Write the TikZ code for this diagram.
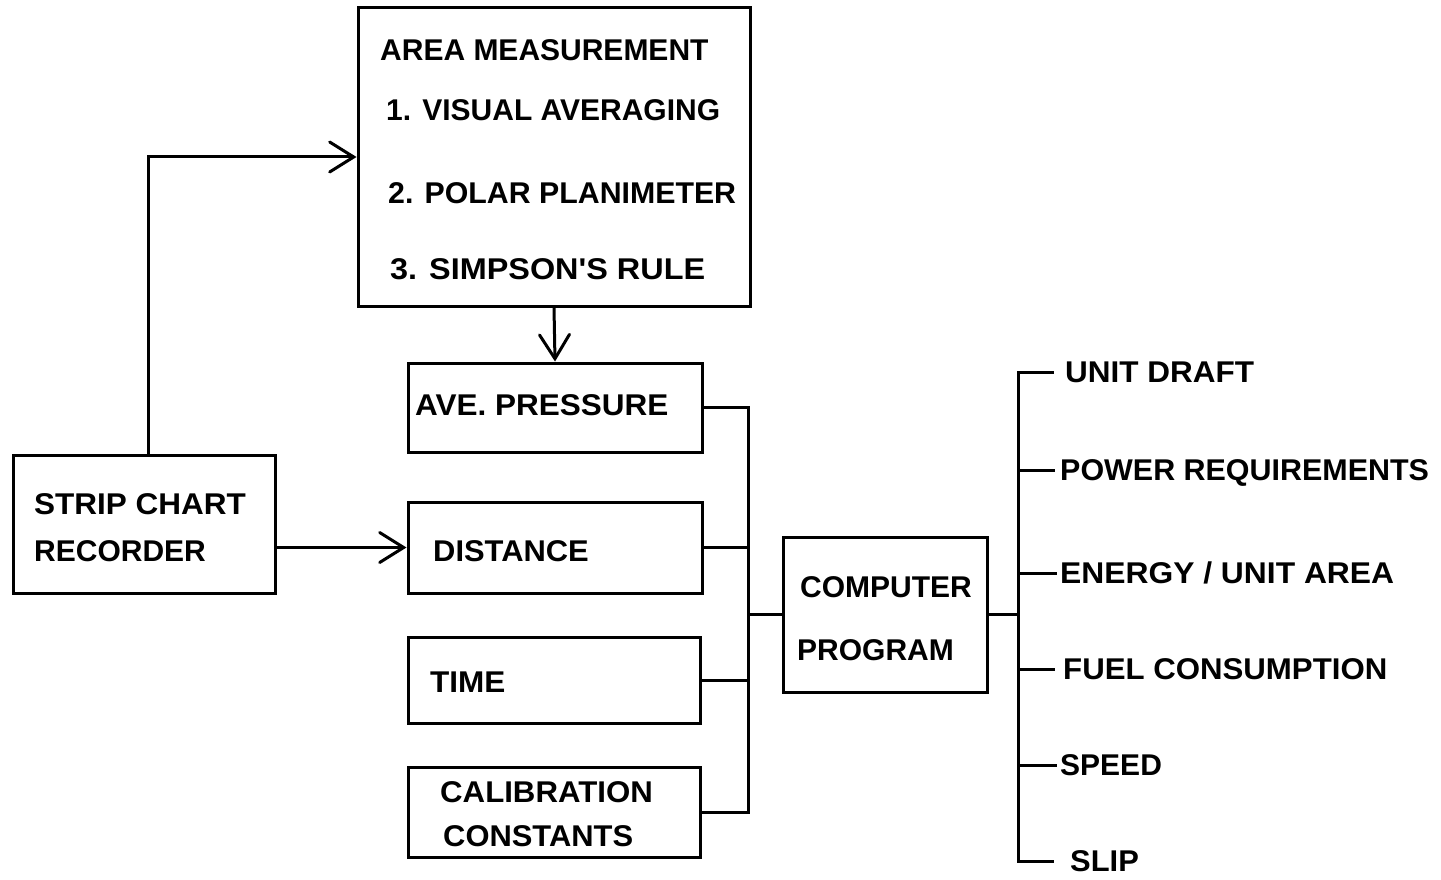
\documentclass[tikz,border=0pt]{standalone}
\usepackage{fontspec}
\setmainfont{Liberation Sans}
\newfontfamily\aposfont{Liberation Sans}
\usetikzlibrary{arrows.meta,calc}
\newcommand\sxw[2]{\scalebox{#1}[1]{#2}}
\begin{document}
\begin{tikzpicture}[x=1pt,y=-1pt,
  ln/.style={line width=3pt,line cap=rect},
  arr/.style={ln,-{Straight Barb[length=24pt,width=30pt,line cap=round]}},
  box/.style={draw,line width=3pt,rectangle,inner sep=0pt},
  txt/.style={font=\fontsize{30}{30}\selectfont\bfseries,anchor=west,inner sep=0pt,text height=21.5pt,text depth=0pt}]
\useasboundingbox[fill=white] (0,0) rectangle (1441,880);
% boxes
\node[box,minimum width=392pt,minimum height=298pt] (area) at (554,157) {};
\node[box,minimum width=262pt,minimum height=138pt] (strip) at (144,524) {};
\node[box,minimum width=294pt,minimum height=89pt] (ave) at (555,407.5) {};
\node[box,minimum width=294pt,minimum height=91pt] (dist) at (555,547.5) {};
\node[box,minimum width=292pt,minimum height=86pt] (time) at (554,680) {};
\node[box,minimum width=292pt,minimum height=90pt] (calib) at (554,812) {};
\node[box,minimum width=204pt,minimum height=155pt] (comp) at (885,614.5) {};
% texts in boxes
\node[txt] (a1) at (380,50) {AREA MEASUREMENT};
\node[txt] (a2) at (386,110) {1. VISUAL AVERAGING};
\node[txt] (a3) at (388,193) {\sxw{1.01}{2. POLAR PLANIMETER}};
\node[txt] (a4) at (390,269) {\sxw{1.08}{3. SIMPSON{\aposfont\bfseries '}S RULE}};
\node[txt] (s1) at (34,504) {\sxw{1.05}{STRIP CHART}};
\node[txt] (s2) at (34,551) {RECORDER};
\node[txt] (t1) at (415,405) {\sxw{1.05}{AVE. PRESSURE}};
\node[txt] (t2) at (433,551) {\sxw{1.03}{DISTANCE}};
\node[txt] (t3) at (430,682) {\sxw{1.05}{TIME}};
\node[txt] (t4) at (440,792) {\sxw{1.04}{CALIBRATION}};
\node[txt] (t5) at (443,836) {\sxw{1.03}{CONSTANTS}};
\node[txt] (c1) at (800,587) {COMPUTER};
\node[txt] (c2) at (797,650) {PROGRAM};
% output labels
\node[txt] (o1) at (1065,372) {\sxw{1.05}{UNIT DRAFT}};
\node[txt] (o2) at (1060,470) {\sxw{1.015}{POWER REQUIREMENTS}};
\node[txt] (o3) at (1060,573) {\sxw{1.06}{ENERGY / UNIT AREA}};
\node[txt] (o4) at (1063,669) {\sxw{1.04}{FUEL CONSUMPTION}};
\node[txt] (o5) at (1060,765) {SPEED};
\node[txt] (o6) at (1070,861) {\sxw{1.03}{SLIP}};
% connectors
\draw[arr] ([xshift=4pt]strip.north) |- (area.west);
\draw[arr] (strip.east |- dist.west) -- (dist.west);
\draw[arr] (area.south) -- (ave.north);
\coordinate (bus) at (748,0);
\coordinate (rbus) at (1018,0);
\draw[ln] (ave.east) -| (bus |- calib.east) -- (calib.east);
\draw[ln] (dist.east) -- (dist.east -| bus);
\draw[ln] (time.east) -- (time.east -| bus);
\draw[ln] (comp.west) -- (comp.west -| bus);
\draw[ln] (comp.east) -- (comp.east -| rbus);
\draw[ln] ([xshift=-13pt]o1.west) -| (rbus |- o6.west) -- ([xshift=-18pt]o6.west);
\draw[ln] (rbus |- o2.west) -- ([xshift=-7pt]o2.west);
\draw[ln] (rbus |- o3.west) -- ([xshift=-5pt]o3.west);
\draw[ln] (rbus |- o4.west) -- ([xshift=-10pt]o4.west);
\draw[ln] (rbus |- o5.west) -- ([xshift=-5pt]o5.west);
\end{tikzpicture}
\end{document}
